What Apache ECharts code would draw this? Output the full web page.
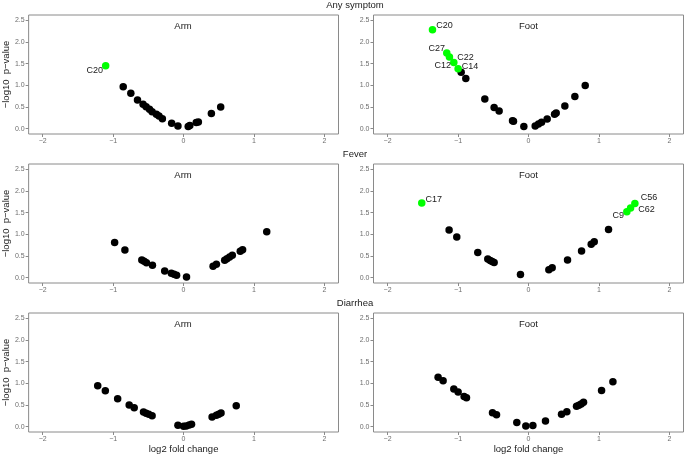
<!DOCTYPE html>
<html><head><meta charset="utf-8">
<script src="https://cdn.jsdelivr.net/npm/echarts@6/dist/echarts.min.js"></script>
<style>html,body{margin:0;padding:0;background:#fff}#c{width:685px;height:455px}</style>
</head><body><div id="c"></div><script>
// ---- text ----
const rowTitles = ['Any symptom', 'Fever', 'Diarrhea'];
const colTitles = ['Arm', 'Foot'];
const xTicks = [-2, -1, 0, 1, 2];
const yTicks = [0, 0.5, 1, 1.5, 2, 2.5];
const xName = 'log2 fold change';
const yName = '\u2212log10  p\u2212value';

// ---- data: [log2 fold change, -log10 p] ----
const anyArm = [[-0.857,0.968],[-0.749,0.815],[-0.654,0.661],[-0.575,0.562],[-0.532,0.507],[-0.484,0.447],
  [-0.447,0.392],[-0.386,0.332],[-0.349,0.293],[-0.301,0.23],[-0.169,0.124],[-0.08,0.062],
  [0.066,0.046],[0.089,0.07],[0.18,0.14],[0.21,0.15],[0.395,0.346],[0.527,0.5]];
const anyArmSig = [[-1.106,1.454,'C20']];

const anyFoot = [[-0.956,1.30],[-0.89,1.158],[-0.62,0.683],[-0.488,0.49],[-0.417,0.406],[-0.227,0.184],
  [-0.213,0.169],[-0.066,0.046],[0.095,0.061],[0.142,0.107],[0.185,0.146],[0.265,0.222],[0.37,0.33],
  [0.393,0.36],[0.516,0.52],[0.658,0.744],[0.805,0.997]];
const anyFootSig = [[-1.363,2.285,'C20'],[-1.16,1.748,'C27'],[-1.122,1.656,'C22'],[-1.06,1.526,'C12'],[-0.999,1.38,'C14']];

const feverArm = [[-0.979,0.813],[-0.833,0.637],[-0.593,0.406],[-0.56,0.376],[-0.527,0.345],[-0.442,0.284],
  [-0.268,0.153],[-0.174,0.10],[-0.136,0.077],[-0.099,0.054],[0.042,0.015],[0.419,0.26],[0.466,0.307],
  [0.584,0.399],[0.616,0.437],[0.654,0.475],[0.692,0.514],[0.805,0.606],[0.838,0.644],[1.181,1.058]];
const feverArmSig = [];

const feverFoot = [[-1.127,1.098],[-1.018,0.937],[-0.72,0.579],[-0.578,0.427],[-0.544,0.396],[-0.516,0.373],
  [-0.488,0.351],[-0.114,0.069],[0.289,0.183],[0.336,0.229],[0.554,0.404],[0.753,0.617],[0.89,0.77],
  [0.933,0.83],[1.136,1.113]];
const feverFootSig = [[-1.515,1.722,'C17'],[1.396,1.524,'C9'],[1.449,1.608,'C62'],[1.51,1.715,'C56']];

const diarArm = [[-1.219,0.943],[-1.111,0.828],[-0.936,0.644],[-0.772,0.498],[-0.701,0.437],[-0.569,0.337],
  [-0.532,0.307],[-0.494,0.284],[-0.447,0.253],[-0.08,0.031],[0.0,0.005],[0.038,0.012],[0.08,0.038],
  [0.113,0.054],[0.405,0.222],[0.466,0.261],[0.499,0.284],[0.532,0.314],[0.748,0.483]];
const diarArmSig = [];

const diarFoot = [[-1.283,1.143],[-1.212,1.058],[-1.06,0.867],[-0.999,0.798],[-0.914,0.698],[-0.88,0.667],
  [-0.511,0.322],[-0.454,0.276],[-0.166,0.092],[-0.038,0.015],[0.062,0.023],[0.241,0.13],[0.469,0.284],
  [0.544,0.345],[0.682,0.468],[0.715,0.491],[0.748,0.521],[0.781,0.56],[1.037,0.836],[1.198,1.035]];
const diarFootSig = [];

const panels = [
  [anyArm, anyArmSig], [anyFoot, anyFootSig],
  [feverArm, feverArmSig], [feverFoot, feverFootSig],
  [diarArm, diarArmSig], [diarFoot, diarFootSig]
];

// ---- label placement (style) ----
const labelPlace = {
  '0-C20': ['left', [1, 5]],
  '1-C20': ['right', [0, -4]],
  '1-C27': ['left', [2, -4]],
  '1-C22': ['right', [4, 1]],
  '1-C12': ['left', [1, 3]],
  '1-C14': ['right', [0, -2]],
  '3-C17': ['right', [0, -4]],
  '3-C56': ['right', [2, -6]],
  '3-C62': ['right', [4, 2]],
  '3-C9': ['left', [1, 4]]
};

// ---- layout ----
const FONT = '"Liberation Sans", Arial, sans-serif';
const colLeft = [27.5, 373.5], colW = [311, 310];
const rowTop = [15, 164, 313], rowH = 119;
const frame = '#8a8a8a';
const fmt = v => (v < 0 ? '\u2212' : '') + Math.abs(v);

const grids = [], xAxes = [], yAxes = [], series = [], graphics = [];
panels.forEach((p, i) => {
  const r = Math.floor(i / 2), c = i % 2;
  grids.push({left: colLeft[c], top: rowTop[r], width: colW[c], height: rowH,
    show: true, borderColor: frame, borderWidth: 1, backgroundColor: '#fff'});
  xAxes.push({type: 'value', gridIndex: i, min: -2.2, max: 2.2, position: 'bottom',
    axisLine: {show: false, onZero: false}, splitLine: {show: false},
    axisTick: {show: true, length: 3, customValues: xTicks, lineStyle: {color: frame}},
    axisLabel: {customValues: xTicks, formatter: fmt, fontSize: 7, color: '#6e6e6e', margin: 4, fontFamily: FONT},
    name: r === 2 ? xName : '', nameLocation: 'middle', nameGap: 11,
    nameTextStyle: {fontSize: 9.5, color: '#1a1a1a', fontFamily: FONT}});
  yAxes.push({type: 'value', gridIndex: i, min: -0.125, max: 2.625, position: 'left',
    axisLine: {show: false, onZero: false}, splitLine: {show: false},
    axisTick: {show: true, length: 3, customValues: yTicks, lineStyle: {color: frame}},
    axisLabel: {customValues: yTicks, formatter: v => v.toFixed(1), fontSize: 7, color: '#6e6e6e', margin: 4, fontFamily: FONT},
    name: c === 0 ? yName : '', nameLocation: 'middle', nameGap: 15,
    nameTextStyle: {fontSize: 9.5, color: '#1a1a1a', fontFamily: FONT}});
  series.push({type: 'scatter', xAxisIndex: i, yAxisIndex: i, data: p[0], symbolSize: 7.5,
    itemStyle: {color: '#000', opacity: 1}, silent: true});
  series.push({type: 'scatter', xAxisIndex: i, yAxisIndex: i, symbolSize: 7.5, silent: true,
    itemStyle: {color: '#00ff00', opacity: 1}, z: 3,
    data: p[1].map(d => {
      const lp = labelPlace[i + '-' + d[2]] || ['right', [0, 0]];
      return {value: [d[0], d[1]], name: d[2],
        label: {show: true, formatter: d[2], position: lp[0], distance: 0, offset: lp[1],
          fontSize: 9, color: '#1a1a1a', fontFamily: FONT}};
    })});
  graphics.push({type: 'text', x: colLeft[c] + colW[c] / 2, y: rowTop[r] + 11,
    style: {text: colTitles[c], align: 'center', verticalAlign: 'middle', fontSize: 9.5, fill: '#1a1a1a', fontFamily: FONT}});
});
rowTitles.forEach((t, r) => {
  graphics.push({type: 'text', x: 355, y: rowTop[r] - 10,
    style: {text: t, align: 'center', verticalAlign: 'middle', fontSize: 9.5, fill: '#1a1a1a', fontFamily: FONT}});
});

const chart = echarts.init(document.getElementById('c'), null, {renderer: 'canvas'});
chart.setOption({
  animation: false, backgroundColor: '#fff',
  grid: grids, xAxis: xAxes, yAxis: yAxes, series: series, graphic: graphics
});
</script></body></html>
